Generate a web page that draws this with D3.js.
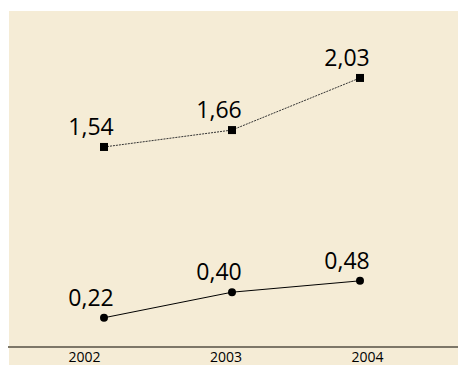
<!DOCTYPE html>
<html><head><meta charset="utf-8">
<script src="https://cdn.jsdelivr.net/npm/d3@7"></script>
<style>html,body{margin:0;padding:0;background:#fff;}svg{display:block;}</style>
</head><body>
<svg id="c" width="458" height="365"></svg>
<script>
const years = ["2002", "2003", "2004"];
const upperValues = [1.54, 1.66, 2.03];
const lowerValues = [0.22, 0.40, 0.48];
const upperLabels = ["1,54", "1,66", "2,03"];
const lowerLabels = ["0,22", "0,40", "0,48"];

const svg = d3.select("#c");
const W = 458, H = 365;

svg.append("rect").attr("x", 9).attr("y", 11).attr("width", W - 9).attr("height", H - 11).attr("fill", "#f5ecd6");

const xPts = d3.scalePoint().domain(years).range([104, 360]);
const xAxisScale = d3.scalePoint().domain(years).range([84, 367]);
const yUpper = d3.scaleLinear().domain([1.5, 2.1]).range([152.6, 68.1]);
const yLower = d3.scaleLinear().domain([0, 0.5]).range([349, 278]);

// axis
const axisG = svg.append("g").attr("transform", "translate(0,347)");
axisG.append("line").attr("x1", 8).attr("x2", W).attr("y1", 0).attr("y2", 0)
  .attr("stroke", "#7d7768").attr("stroke-width", 2);
axisG.call(d3.axisBottom(xAxisScale).tickSize(0).tickPadding(0))
  .call(g => g.select(".domain").remove())
  .call(g => g.selectAll("text").attr("font-family", "Open Sans").attr("font-size", 14)
     .attr("fill", "#000").attr("dy", "14.5px").attr("y", 0));

function series(vals, labels, y, dashed, square) {
  const data = vals.map((v, i) => ({x: years[i], v, label: labels[i]}));
  const line = d3.line().x(d => xPts(d.x)).y(d => y(d.v));
  svg.append("path").datum(data).attr("d", line).attr("fill", "none")
    .attr("stroke", dashed ? "#333" : "#000").attr("stroke-width", 1)
    .attr("stroke-dasharray", dashed ? "2,1" : null);
  if (square) {
    svg.selectAll(null).data(data).join("rect")
      .attr("x", d => xPts(d.x) - 4).attr("y", d => y(d.v) - 4)
      .attr("width", 8).attr("height", 8).attr("fill", "#000");
  } else {
    svg.selectAll(null).data(data).join("circle")
      .attr("cx", d => xPts(d.x)).attr("cy", d => y(d.v)).attr("r", 4).attr("fill", "#000");
  }
  svg.selectAll(null).data(data).join("text")
    .attr("x", d => xPts(d.x) - 13).attr("y", d => y(d.v) - 12)
    .attr("text-anchor", "middle").attr("font-family", "Open Sans").attr("font-size", 23)
    .attr("fill", "#000").text(d => d.label);
}
series(upperValues, upperLabels, yUpper, true, true);
series(lowerValues, lowerLabels, yLower, false, false);
</script>
</body></html>
